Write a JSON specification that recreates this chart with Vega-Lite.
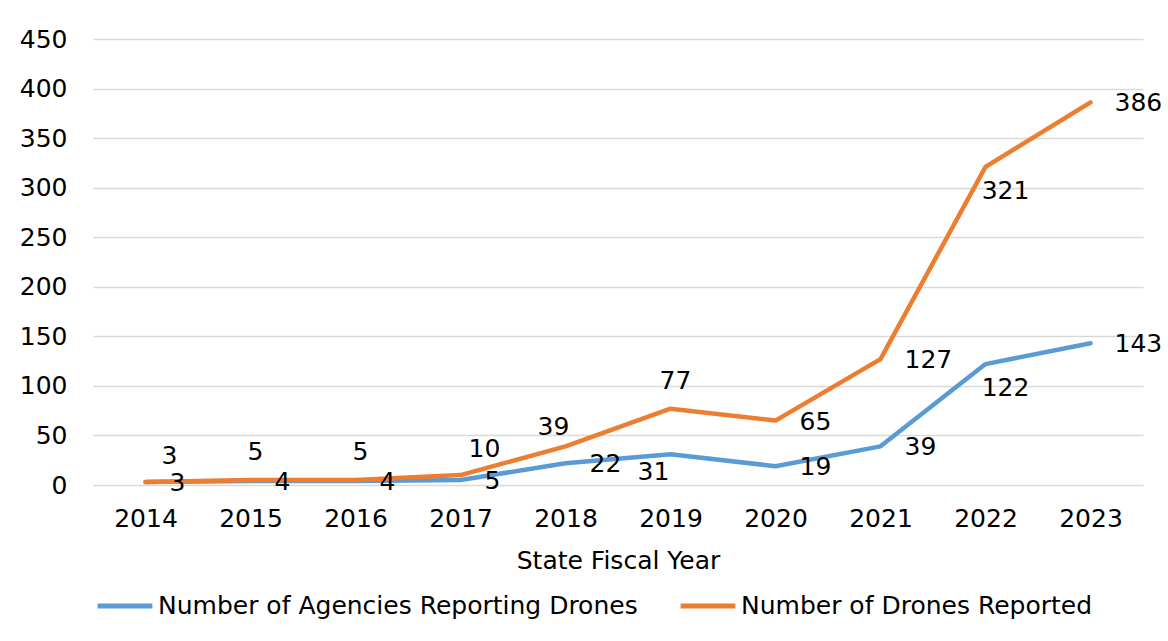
{
  "$schema": "https://vega.github.io/schema/vega-lite/v6.json",
  "autosize": {"type": "none"},
  "padding": {"left": 93, "top": 39, "right": 25, "bottom": 156},
  "width": 1050,
  "height": 446,
  "background": "white",
  "config": {
    "font": "DejaVu Sans",
    "view": {"stroke": null},
    "text": {"font": "DejaVu Sans", "fontSize": 25, "color": "#000000"}
  },
  "data": {
    "values": [
      {"year": "2014", "series": "Number of Agencies Reporting Drones", "value": 3},
      {"year": "2015", "series": "Number of Agencies Reporting Drones", "value": 4},
      {"year": "2016", "series": "Number of Agencies Reporting Drones", "value": 4},
      {"year": "2017", "series": "Number of Agencies Reporting Drones", "value": 5},
      {"year": "2018", "series": "Number of Agencies Reporting Drones", "value": 22},
      {"year": "2019", "series": "Number of Agencies Reporting Drones", "value": 31},
      {"year": "2020", "series": "Number of Agencies Reporting Drones", "value": 19},
      {"year": "2021", "series": "Number of Agencies Reporting Drones", "value": 39},
      {"year": "2022", "series": "Number of Agencies Reporting Drones", "value": 122},
      {"year": "2023", "series": "Number of Agencies Reporting Drones", "value": 143},
      {"year": "2014", "series": "Number of Drones Reported", "value": 3},
      {"year": "2015", "series": "Number of Drones Reported", "value": 5},
      {"year": "2016", "series": "Number of Drones Reported", "value": 5},
      {"year": "2017", "series": "Number of Drones Reported", "value": 10},
      {"year": "2018", "series": "Number of Drones Reported", "value": 39},
      {"year": "2019", "series": "Number of Drones Reported", "value": 77},
      {"year": "2020", "series": "Number of Drones Reported", "value": 65},
      {"year": "2021", "series": "Number of Drones Reported", "value": 127},
      {"year": "2022", "series": "Number of Drones Reported", "value": 321},
      {"year": "2023", "series": "Number of Drones Reported", "value": 386}
    ]
  },
  "encoding": {
    "x": {
      "field": "year", "type": "ordinal",
      "scale": {"type": "point", "padding": 0.5},
      "axis": {
        "title": "State Fiscal Year", "labelAngle": 0, "domain": false, "ticks": false,
        "labelFontSize": 25, "labelColor": "#000000", "labelPadding": 21,
        "titleFontSize": 25, "titleFontWeight": "normal", "titleColor": "#000000", "titlePadding": 17
      }
    },
    "y": {
      "field": "value", "type": "quantitative",
      "scale": {"domain": [0, 450], "nice": false},
      "axis": {
        "title": null, "values": [0, 50, 100, 150, 200, 250, 300, 350, 400, 450],
        "domain": false, "ticks": false, "labelFontSize": 25, "labelColor": "#000000",
        "labelPadding": 26, "gridColor": "#d9d9d9", "gridWidth": 1.5
      }
    }
  },
  "layer": [
    {
      "mark": {"type": "line", "strokeWidth": 4.5, "strokeCap": "round", "strokeJoin": "round"},
      "encoding": {
        "color": {
          "field": "series", "type": "nominal",
          "scale": {"domain": ["Number of Agencies Reporting Drones", "Number of Drones Reported"], "range": ["#5B9BD5", "#ED7D31"]},
          "legend": {
            "title": null, "orient": "none", "direction": "horizontal", "legendX": 2, "legendY": 537,
            "symbolType": "stroke", "symbolSize": 3000, "symbolStrokeWidth": 5,
            "labelFontSize": 25, "labelColor": "#000000", "labelLimit": 600, "labelOffset": 3,
            "columnPadding": 32
          }
        }
      }
    },
    {
      "transform": [{"filter": {"or": [
        {"and": [{"field": "series", "equal": "Number of Agencies Reporting Drones"}, {"field": "year", "oneOf": ["2014", "2015", "2016", "2017", "2018", "2020", "2021", "2023"]}]},
        {"and": [{"field": "series", "equal": "Number of Drones Reported"}, {"field": "year", "oneOf": ["2020", "2021", "2023"]}]}
      ]}}],
      "mark": {"type": "text", "align": "left", "baseline": "middle", "dx": 24, "dy": 1},
      "encoding": {"text": {"field": "value", "type": "quantitative"}}
    },
    {
      "transform": [{"filter": {"and": [{"field": "series", "equal": "Number of Agencies Reporting Drones"}, {"field": "year", "equal": "2019"}]}}],
      "mark": {"type": "text", "align": "center", "baseline": "middle", "dx": -17, "dy": 18},
      "encoding": {"text": {"field": "value", "type": "quantitative"}}
    },
    {
      "transform": [{"filter": {"field": "year", "equal": "2022"}}],
      "mark": {"type": "text", "align": "center", "baseline": "middle", "dx": 20, "dy": 24},
      "encoding": {"text": {"field": "value", "type": "quantitative"}}
    },
    {
      "transform": [{"filter": {"and": [{"field": "series", "equal": "Number of Drones Reported"}, {"field": "year", "oneOf": ["2015", "2016", "2019"]}]}}],
      "mark": {"type": "text", "align": "center", "baseline": "middle", "dx": 5, "dy": -28},
      "encoding": {"text": {"field": "value", "type": "quantitative"}}
    },
    {
      "transform": [{"filter": {"and": [{"field": "series", "equal": "Number of Drones Reported"}, {"field": "year", "oneOf": ["2014", "2017"]}]}}],
      "mark": {"type": "text", "align": "center", "baseline": "middle", "dx": 24, "dy": -26},
      "encoding": {"text": {"field": "value", "type": "quantitative"}}
    },
    {
      "transform": [{"filter": {"and": [{"field": "series", "equal": "Number of Drones Reported"}, {"field": "year", "equal": "2018"}]}}],
      "mark": {"type": "text", "align": "center", "baseline": "middle", "dx": -12, "dy": -19},
      "encoding": {"text": {"field": "value", "type": "quantitative"}}
    }
  ]
}
